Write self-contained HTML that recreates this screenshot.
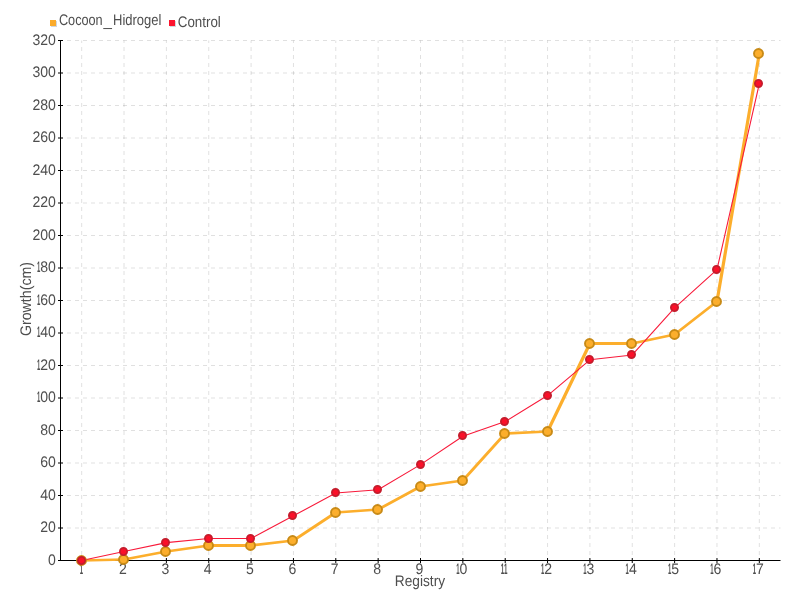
<!DOCTYPE html>
<html><head><meta charset="utf-8"><title>Growth chart</title>
<style>
html,body{margin:0;padding:0;background:#fff;}
body{width:800px;height:600px;overflow:hidden;}
svg{display:block;}
text{font-family:"Liberation Sans",sans-serif;font-size:15.3px;text-rendering:geometricPrecision;fill:#4e4e4e;}
text.n{font-size:15.3px;}
tspan.b{font-weight:bold;}
</style></head><body>
<svg width="800" height="600" viewBox="0 0 800 600">
<rect width="800" height="600" fill="#fff"/>
<g stroke="#000" stroke-opacity="0.12" stroke-width="1" stroke-dasharray="4,4" fill="none">
<line x1="61" y1="40.50" x2="780.5" y2="40.50" stroke-dashoffset="2"/>
<line x1="61" y1="73.00" x2="780.5" y2="73.00" stroke-dashoffset="2"/>
<line x1="61" y1="105.50" x2="780.5" y2="105.50" stroke-dashoffset="2"/>
<line x1="61" y1="138.00" x2="780.5" y2="138.00" stroke-dashoffset="2"/>
<line x1="61" y1="170.50" x2="780.5" y2="170.50" stroke-dashoffset="2"/>
<line x1="61" y1="203.00" x2="780.5" y2="203.00" stroke-dashoffset="2"/>
<line x1="61" y1="235.50" x2="780.5" y2="235.50" stroke-dashoffset="2"/>
<line x1="61" y1="268.00" x2="780.5" y2="268.00" stroke-dashoffset="2"/>
<line x1="61" y1="300.50" x2="780.5" y2="300.50" stroke-dashoffset="2"/>
<line x1="61" y1="333.00" x2="780.5" y2="333.00" stroke-dashoffset="2"/>
<line x1="61" y1="365.50" x2="780.5" y2="365.50" stroke-dashoffset="2"/>
<line x1="61" y1="398.00" x2="780.5" y2="398.00" stroke-dashoffset="2"/>
<line x1="61" y1="430.50" x2="780.5" y2="430.50" stroke-dashoffset="2"/>
<line x1="61" y1="463.00" x2="780.5" y2="463.00" stroke-dashoffset="2"/>
<line x1="61" y1="495.50" x2="780.5" y2="495.50" stroke-dashoffset="2"/>
<line x1="61" y1="528.00" x2="780.5" y2="528.00" stroke-dashoffset="2"/>
<line x1="81.68" y1="40.5" x2="81.68" y2="560.0" stroke-dashoffset="1.5"/>
<line x1="124.03" y1="40.5" x2="124.03" y2="560.0" stroke-dashoffset="1.5"/>
<line x1="166.38" y1="40.5" x2="166.38" y2="560.0" stroke-dashoffset="1.5"/>
<line x1="208.74" y1="40.5" x2="208.74" y2="560.0" stroke-dashoffset="1.5"/>
<line x1="251.09" y1="40.5" x2="251.09" y2="560.0" stroke-dashoffset="1.5"/>
<line x1="293.44" y1="40.5" x2="293.44" y2="560.0" stroke-dashoffset="1.5"/>
<line x1="335.79" y1="40.5" x2="335.79" y2="560.0" stroke-dashoffset="1.5"/>
<line x1="378.15" y1="40.5" x2="378.15" y2="560.0" stroke-dashoffset="1.5"/>
<line x1="420.50" y1="40.5" x2="420.50" y2="560.0" stroke-dashoffset="1.5"/>
<line x1="462.85" y1="40.5" x2="462.85" y2="560.0" stroke-dashoffset="1.5"/>
<line x1="505.21" y1="40.5" x2="505.21" y2="560.0" stroke-dashoffset="1.5"/>
<line x1="547.56" y1="40.5" x2="547.56" y2="560.0" stroke-dashoffset="1.5"/>
<line x1="589.91" y1="40.5" x2="589.91" y2="560.0" stroke-dashoffset="1.5"/>
<line x1="632.26" y1="40.5" x2="632.26" y2="560.0" stroke-dashoffset="1.5"/>
<line x1="674.62" y1="40.5" x2="674.62" y2="560.0" stroke-dashoffset="1.5"/>
<line x1="716.97" y1="40.5" x2="716.97" y2="560.0" stroke-dashoffset="1.5"/>
<line x1="759.32" y1="40.5" x2="759.32" y2="560.0" stroke-dashoffset="1.5"/>
</g>
<g stroke="#000" stroke-width="1" fill="none">
<line x1="60.5" y1="40.0" x2="60.5" y2="561.0"/>
<line x1="60.0" y1="560.5" x2="780.5" y2="560.5"/>
<line x1="58" y1="40.50" x2="63" y2="40.50"/>
<line x1="58" y1="73.00" x2="63" y2="73.00"/>
<line x1="58" y1="105.50" x2="63" y2="105.50"/>
<line x1="58" y1="138.00" x2="63" y2="138.00"/>
<line x1="58" y1="170.50" x2="63" y2="170.50"/>
<line x1="58" y1="203.00" x2="63" y2="203.00"/>
<line x1="58" y1="235.50" x2="63" y2="235.50"/>
<line x1="58" y1="268.00" x2="63" y2="268.00"/>
<line x1="58" y1="300.50" x2="63" y2="300.50"/>
<line x1="58" y1="333.00" x2="63" y2="333.00"/>
<line x1="58" y1="365.50" x2="63" y2="365.50"/>
<line x1="58" y1="398.00" x2="63" y2="398.00"/>
<line x1="58" y1="430.50" x2="63" y2="430.50"/>
<line x1="58" y1="463.00" x2="63" y2="463.00"/>
<line x1="58" y1="495.50" x2="63" y2="495.50"/>
<line x1="58" y1="528.00" x2="63" y2="528.00"/>
<line x1="58" y1="560.50" x2="63" y2="560.50"/>
<line x1="81.68" y1="558" x2="81.68" y2="563"/>
<line x1="124.03" y1="558" x2="124.03" y2="563"/>
<line x1="166.38" y1="558" x2="166.38" y2="563"/>
<line x1="208.74" y1="558" x2="208.74" y2="563"/>
<line x1="251.09" y1="558" x2="251.09" y2="563"/>
<line x1="293.44" y1="558" x2="293.44" y2="563"/>
<line x1="335.79" y1="558" x2="335.79" y2="563"/>
<line x1="378.15" y1="558" x2="378.15" y2="563"/>
<line x1="420.50" y1="558" x2="420.50" y2="563"/>
<line x1="462.85" y1="558" x2="462.85" y2="563"/>
<line x1="505.21" y1="558" x2="505.21" y2="563"/>
<line x1="547.56" y1="558" x2="547.56" y2="563"/>
<line x1="589.91" y1="558" x2="589.91" y2="563"/>
<line x1="632.26" y1="558" x2="632.26" y2="563"/>
<line x1="674.62" y1="558" x2="674.62" y2="563"/>
<line x1="716.97" y1="558" x2="716.97" y2="563"/>
<line x1="759.32" y1="558" x2="759.32" y2="563"/>
</g>
<text class="n" transform="translate(32.50,44.90) scale(0.92,1)"><tspan textLength="25.43" lengthAdjust="spacing">320</tspan></text>
<text class="n" transform="translate(32.50,77.40) scale(0.92,1)"><tspan textLength="25.43" lengthAdjust="spacing">300</tspan></text>
<text class="n" transform="translate(32.50,109.90) scale(0.92,1)"><tspan textLength="25.43" lengthAdjust="spacing">280</tspan></text>
<text class="n" transform="translate(32.50,142.40) scale(0.92,1)"><tspan textLength="25.43" lengthAdjust="spacing">260</tspan></text>
<text class="n" transform="translate(32.50,174.90) scale(0.92,1)"><tspan textLength="25.43" lengthAdjust="spacing">240</tspan></text>
<text class="n" transform="translate(32.50,207.40) scale(0.92,1)"><tspan textLength="25.43" lengthAdjust="spacing">220</tspan></text>
<text class="n" transform="translate(32.50,239.90) scale(0.92,1)"><tspan textLength="25.43" lengthAdjust="spacing">200</tspan></text>
<text class="n" transform="translate(37.00,272.40) scale(0.92,1)"><tspan class="b" textLength="3.59" lengthAdjust="spacingAndGlyphs">1</tspan><tspan textLength="16.96" lengthAdjust="spacing">80</tspan></text>
<text class="n" transform="translate(37.00,304.90) scale(0.92,1)"><tspan class="b" textLength="3.59" lengthAdjust="spacingAndGlyphs">1</tspan><tspan textLength="16.96" lengthAdjust="spacing">60</tspan></text>
<text class="n" transform="translate(37.00,337.40) scale(0.92,1)"><tspan class="b" textLength="3.59" lengthAdjust="spacingAndGlyphs">1</tspan><tspan textLength="16.96" lengthAdjust="spacing">40</tspan></text>
<text class="n" transform="translate(37.00,369.90) scale(0.92,1)"><tspan class="b" textLength="3.59" lengthAdjust="spacingAndGlyphs">1</tspan><tspan textLength="16.96" lengthAdjust="spacing">20</tspan></text>
<text class="n" transform="translate(37.00,402.40) scale(0.92,1)"><tspan class="b" textLength="3.59" lengthAdjust="spacingAndGlyphs">1</tspan><tspan textLength="16.96" lengthAdjust="spacing">00</tspan></text>
<text class="n" transform="translate(40.30,434.90) scale(0.92,1)"><tspan textLength="16.96" lengthAdjust="spacing">80</tspan></text>
<text class="n" transform="translate(40.30,467.40) scale(0.92,1)"><tspan textLength="16.96" lengthAdjust="spacing">60</tspan></text>
<text class="n" transform="translate(40.30,499.90) scale(0.92,1)"><tspan textLength="16.96" lengthAdjust="spacing">40</tspan></text>
<text class="n" transform="translate(40.30,532.40) scale(0.92,1)"><tspan textLength="16.96" lengthAdjust="spacing">20</tspan></text>
<text class="n" transform="translate(48.10,564.90) scale(0.92,1)"><tspan textLength="8.48" lengthAdjust="spacing">0</tspan></text>
<text class="n" transform="translate(79.63,573.70) scale(0.92,1)"><tspan class="b" textLength="3.59" lengthAdjust="spacingAndGlyphs">1</tspan></text>
<text class="n" transform="translate(119.03,573.70) scale(0.92,1)"><tspan textLength="8.48" lengthAdjust="spacing">2</tspan></text>
<text class="n" transform="translate(161.38,573.70) scale(0.92,1)"><tspan textLength="8.48" lengthAdjust="spacing">3</tspan></text>
<text class="n" transform="translate(203.74,573.70) scale(0.92,1)"><tspan textLength="8.48" lengthAdjust="spacing">4</tspan></text>
<text class="n" transform="translate(246.09,573.70) scale(0.92,1)"><tspan textLength="8.48" lengthAdjust="spacing">5</tspan></text>
<text class="n" transform="translate(288.44,573.70) scale(0.92,1)"><tspan textLength="8.48" lengthAdjust="spacing">6</tspan></text>
<text class="n" transform="translate(330.79,573.70) scale(0.92,1)"><tspan textLength="8.48" lengthAdjust="spacing">7</tspan></text>
<text class="n" transform="translate(373.15,573.70) scale(0.92,1)"><tspan textLength="8.48" lengthAdjust="spacing">8</tspan></text>
<text class="n" transform="translate(415.50,573.70) scale(0.92,1)"><tspan textLength="8.48" lengthAdjust="spacing">9</tspan></text>
<text class="n" transform="translate(456.20,573.70) scale(0.92,1)"><tspan class="b" textLength="3.59" lengthAdjust="spacingAndGlyphs">1</tspan><tspan textLength="8.48" lengthAdjust="spacing">0</tspan></text>
<text class="n" transform="translate(500.81,573.70) scale(0.92,1)"><tspan class="b" textLength="7.17" lengthAdjust="spacingAndGlyphs">11</tspan></text>
<text class="n" transform="translate(540.91,573.70) scale(0.92,1)"><tspan class="b" textLength="3.59" lengthAdjust="spacingAndGlyphs">1</tspan><tspan textLength="8.48" lengthAdjust="spacing">2</tspan></text>
<text class="n" transform="translate(583.26,573.70) scale(0.92,1)"><tspan class="b" textLength="3.59" lengthAdjust="spacingAndGlyphs">1</tspan><tspan textLength="8.48" lengthAdjust="spacing">3</tspan></text>
<text class="n" transform="translate(625.61,573.70) scale(0.92,1)"><tspan class="b" textLength="3.59" lengthAdjust="spacingAndGlyphs">1</tspan><tspan textLength="8.48" lengthAdjust="spacing">4</tspan></text>
<text class="n" transform="translate(667.97,573.70) scale(0.92,1)"><tspan class="b" textLength="3.59" lengthAdjust="spacingAndGlyphs">1</tspan><tspan textLength="8.48" lengthAdjust="spacing">5</tspan></text>
<text class="n" transform="translate(710.32,573.70) scale(0.92,1)"><tspan class="b" textLength="3.59" lengthAdjust="spacingAndGlyphs">1</tspan><tspan textLength="8.48" lengthAdjust="spacing">6</tspan></text>
<text class="n" transform="translate(752.67,573.70) scale(0.92,1)"><tspan class="b" textLength="3.59" lengthAdjust="spacingAndGlyphs">1</tspan><tspan textLength="8.48" lengthAdjust="spacing">7</tspan></text>
<text x="394.8" y="586" textLength="50.3" lengthAdjust="spacingAndGlyphs">Registry</text>
<text transform="translate(31.2,336) rotate(-90)" textLength="74" lengthAdjust="spacingAndGlyphs">Growth(cm)</text>
<rect x="51" y="21" width="6" height="6" fill="#d2d6dc"/><rect x="50" y="20" width="6" height="6" fill="#fbab2b"/>
<text x="58.9" y="24.75"><tspan textLength="43.8" lengthAdjust="spacingAndGlyphs">Cocoon</tspan><tspan dx="0.9" dy="1.3" textLength="8.4" lengthAdjust="spacingAndGlyphs">_</tspan><tspan dx="1" dy="-1.3" textLength="48.4" lengthAdjust="spacingAndGlyphs">Hidrogel</tspan></text>
<rect x="170" y="21" width="6" height="6" fill="#d2d6dc"/><rect x="169" y="20" width="6" height="6" fill="#fc142e"/>
<text x="177.8" y="26.6" textLength="43" lengthAdjust="spacingAndGlyphs">Control</text>
<g stroke="#fcae2c" fill="none" stroke-linecap="round">
<line x1="81.68" y1="560.50" x2="124.03" y2="559.50" stroke-width="2.6"/>
<line x1="124.03" y1="559.50" x2="166.38" y2="551.50" stroke-width="2.6"/>
<line x1="166.38" y1="551.50" x2="208.74" y2="545.50" stroke-width="2.6"/>
<line x1="208.74" y1="545.50" x2="251.09" y2="545.50" stroke-width="3"/>
<line x1="251.09" y1="545.50" x2="293.44" y2="540.50" stroke-width="2.6"/>
<line x1="293.44" y1="540.50" x2="335.79" y2="512.50" stroke-width="2.8"/>
<line x1="335.79" y1="512.50" x2="378.15" y2="509.50" stroke-width="2.6"/>
<line x1="378.15" y1="509.50" x2="420.50" y2="486.50" stroke-width="2.8"/>
<line x1="420.50" y1="486.50" x2="462.85" y2="480.50" stroke-width="2.6"/>
<line x1="462.85" y1="480.50" x2="505.21" y2="433.50" stroke-width="2.8"/>
<line x1="505.21" y1="433.50" x2="547.56" y2="431.50" stroke-width="2.6"/>
<line x1="547.56" y1="431.50" x2="589.91" y2="343.50" stroke-width="3.2"/>
<line x1="589.91" y1="343.50" x2="632.26" y2="343.50" stroke-width="3"/>
<line x1="632.26" y1="343.50" x2="674.62" y2="334.50" stroke-width="2.6"/>
<line x1="674.62" y1="334.50" x2="716.97" y2="301.50" stroke-width="2.8"/>
<line x1="716.97" y1="301.50" x2="759.32" y2="53.50" stroke-width="3.2"/>
</g>
<polyline points="81.68,560.50 124.03,551.56 166.38,542.62 208.74,538.56 251.09,538.56 293.44,515.81 335.79,493.06 378.15,489.81 420.50,464.62 462.85,436.19 505.21,421.56 547.56,395.56 589.91,359.81 632.26,354.94 674.62,307.81 716.97,269.62 759.32,83.56" fill="none" stroke="#f81a3a" stroke-width="1.1" stroke-linejoin="round"/>
<g fill="#fcae2c" stroke="#c88a16" stroke-width="1.9">
<circle cx="81.50" cy="560.50" r="4.5"/>
<circle cx="123.50" cy="559.50" r="4.5"/>
<circle cx="165.50" cy="551.50" r="4.5"/>
<circle cx="208.50" cy="545.50" r="4.5"/>
<circle cx="250.50" cy="545.50" r="4.5"/>
<circle cx="292.50" cy="540.50" r="4.5"/>
<circle cx="335.50" cy="512.50" r="4.5"/>
<circle cx="377.50" cy="509.50" r="4.5"/>
<circle cx="420.50" cy="486.50" r="4.5"/>
<circle cx="462.50" cy="480.50" r="4.5"/>
<circle cx="504.50" cy="433.50" r="4.5"/>
<circle cx="547.50" cy="431.50" r="4.5"/>
<circle cx="589.50" cy="343.50" r="4.5"/>
<circle cx="631.50" cy="343.50" r="4.5"/>
<circle cx="674.50" cy="334.50" r="4.5"/>
<circle cx="716.50" cy="301.50" r="4.5"/>
<circle cx="758.50" cy="53.50" r="4.5"/>
</g>
<g fill="#fa1029" stroke="#c41c2c" stroke-width="1.8">
<circle cx="81.50" cy="560.50" r="3.6"/>
<circle cx="123.50" cy="551.50" r="3.6"/>
<circle cx="165.50" cy="542.50" r="3.6"/>
<circle cx="208.50" cy="538.50" r="3.6"/>
<circle cx="250.50" cy="538.50" r="3.6"/>
<circle cx="292.50" cy="515.50" r="3.6"/>
<circle cx="335.50" cy="492.50" r="3.6"/>
<circle cx="377.50" cy="489.50" r="3.6"/>
<circle cx="420.50" cy="464.50" r="3.6"/>
<circle cx="462.50" cy="435.50" r="3.6"/>
<circle cx="504.50" cy="421.50" r="3.6"/>
<circle cx="547.50" cy="395.50" r="3.6"/>
<circle cx="589.50" cy="359.50" r="3.6"/>
<circle cx="631.50" cy="354.50" r="3.6"/>
<circle cx="674.50" cy="307.50" r="3.6"/>
<circle cx="716.50" cy="269.50" r="3.6"/>
<circle cx="758.50" cy="83.50" r="3.6"/>
</g>
</svg>
</body></html>
